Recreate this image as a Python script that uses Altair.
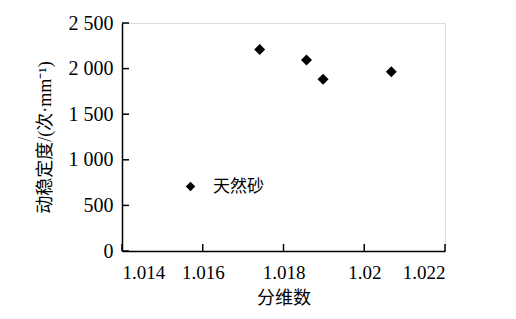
import altair as alt
import pandas as pd

fractal = [1.01741, 1.01857, 1.01898, 1.02067]
stability = [2210, 2094, 1883, 1966]
series = ["天然砂"] * 4

x_ticks = [1.014, 1.016, 1.018, 1.020, 1.022]
y_ticks = [0, 500, 1000, 1500, 2000, 2500]

df = pd.DataFrame({"x": fractal, "y": stability, "s": series})
xt = pd.DataFrame({"v": x_ticks})
yt = pd.DataFrame({"v": y_ticks})

FONT = "Liberation Serif, Noto Sans CJK SC, serif"
W, H = 323, 228

xscale = alt.Scale(domain=[1.014, 1.022], nice=False, zero=False)
yscale = alt.Scale(domain=[0, 2500], nice=False)

points = alt.Chart(df).mark_point(shape="diamond", filled=True, size=120, opacity=1, color="black").encode(
    x=alt.X("x:Q", scale=xscale, title="分维数",
            axis=alt.Axis(values=x_ticks, format=".3~f", ticks=False, grid=False, labelOverlap=False,
                          domainColor="black", domainWidth=1.5, labelFont=FONT, labelFontSize=19,
                          labelColor="black", labelPadding=12, titleFont=FONT, titleFontSize=18,
                          titleFontWeight="normal", titleColor="black", titlePadding=7)),
    y=alt.Y("y:Q", scale=yscale, title="动稳定度/(次·mm⁻¹)",
            axis=alt.Axis(values=y_ticks, labelExpr="replace(format(datum.value, ','), ',', ' ')",
                          ticks=False, grid=False, domainColor="black", domainWidth=1.5,
                          labelFont=FONT, labelFontSize=20, labelColor="black", labelPadding=9,
                          titleFont=FONT, titleFontSize=18, titleFontWeight="normal",
                          titleColor="black", titlePadding=14)),
    shape=alt.Shape("s:N", scale=alt.Scale(range=["diamond"]),
                    legend=alt.Legend(title=None, orient="none", legendX=60, legendY=155,
                                      labelFont=FONT, labelFontSize=17, labelColor="black",
                                      symbolFillColor="black", symbolStrokeColor="black",
                                      symbolSize=90, symbolType="diamond", labelOffset=14)),
)

xtick = alt.Chart(xt).mark_rule(color="black", strokeWidth=1.5).encode(
    x=alt.X("v:Q", scale=xscale), y=alt.value(H), y2=alt.value(H - 7)
)
ytick = alt.Chart(yt).mark_rule(color="black", strokeWidth=1.5).encode(
    y=alt.Y("v:Q", scale=yscale), x=alt.value(0), x2=alt.value(7)
)

chart = alt.layer(points, xtick, ytick).properties(
    width=W, height=H,
    autosize=alt.AutoSizeParams(type="none"),
    padding={"left": 114, "top": 15, "right": 63, "bottom": 60},
).configure_view(stroke=None).configure(background="white")

chart.save("out.html", embed_options={"renderer": "svg", "actions": False})
